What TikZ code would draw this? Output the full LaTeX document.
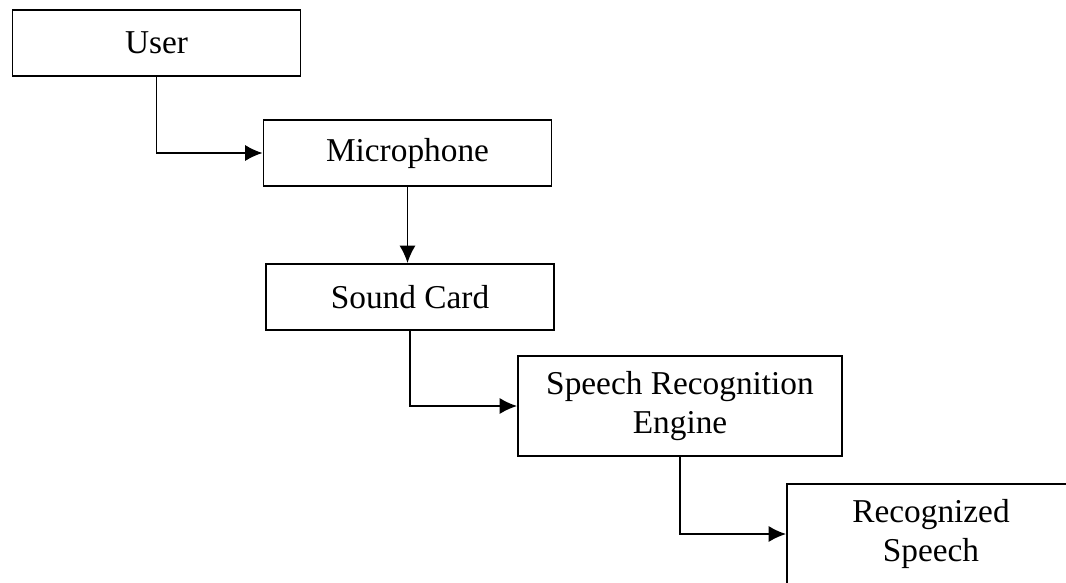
\documentclass[tikz,border=0pt]{standalone}
\usepackage{fontspec}
\setmainfont{Liberation Serif}
\usepackage{tikz}
\usetikzlibrary{arrows.meta}
\newcommand{\blocksize}{\fontsize{25pt}{29pt}\selectfont}

\begin{document}
\begin{tikzpicture}[x=0.75pt,y=-0.75pt,
    block/.style={draw, line width=1.4pt, minimum width=216pt, minimum height=49.5pt,
                  align=center, inner sep=0pt, font=\blocksize},
    link/.style={line width=1.3pt, -{Latex[length=13pt,width=12pt]}}]
                \useasboundingbox (0,0) rectangle (1066,582);

                % Input side
                \node[block] (user) at (156.5,43) {User};
                \node[block] (mic) at (407.5,153) {Microphone};
                \node[block] (card) at (410,297) {Sound Card};

                % Processing
                \node[block, minimum width=243pt, minimum height=75pt] (engine) at (680,406)
                    {Speech Recognition\\Engine};

                % Output
                \node[block, minimum height=75pt] (result) at (931,534) {Recognized\\Speech};

                % Links
                \draw[link] (user.south) |- (mic.west);
                \draw[link] (mic.south) -- (mic.south |- card.north);
                \draw[link] (card.south) |- (engine.west);
                \draw[link] (engine.south) |- (result.west);
            \end{tikzpicture}
\end{document}
